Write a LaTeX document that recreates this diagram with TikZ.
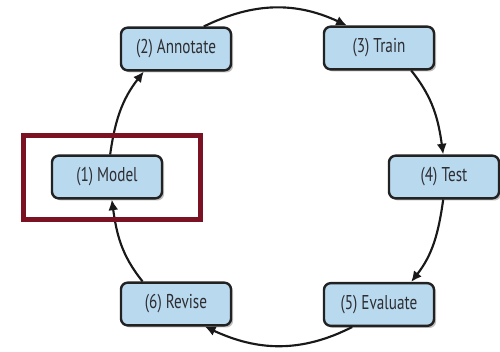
\documentclass[tikz,border=0pt]{standalone}
\usepackage{fontspec}
\setmainfont{PT Sans}[FakeStretch=0.76]
\usetikzlibrary{arrows.meta,shadows}
\definecolor{boxfill}{RGB}{185,217,238}
\definecolor{boxline}{RGB}{34,34,34}
\definecolor{txt}{RGB}{45,45,50}
\definecolor{frame}{RGB}{122,18,36}
\begin{document}
\begin{tikzpicture}[x=0.75pt,y=0.75pt,
  stagebox/.style={draw=boxline,line width=1.8pt,fill=boxfill,rounded corners=5pt,
    minimum width=82.5pt,minimum height=32pt,inner sep=0pt,
    font=\fontsize{15pt}{17pt}\selectfont,text=txt,
    drop shadow={shadow xshift=1.6pt,shadow yshift=-1.6pt,fill=black,opacity=0.25}},
  flow/.style={line width=1.6pt,draw=black!90,-{Latex[length=8pt,width=7.5pt]}}]
\useasboundingbox (0,0) rectangle (500,352);
\node[stagebox] (annot) at (176,303) {(2) Annotate};
\node[stagebox] (train) at (379,304) {(3) Train};
\node[stagebox] (model) at (107,175) {(1) Model};
\node[stagebox] (test) at (444,175) {(4) Test};
\node[stagebox] (revise) at (176,48) {(6) Revise};
\node[stagebox] (eval) at (379,47.5) {(5) Evaluate};
\draw[flow] (annot.39) to[out=26,in=155] (train.145);
\draw[flow] (train.-35) to[out=-51,in=98] (test.92);
\draw[flow] (test.-92) to[out=-98,in=52] (eval.35);
\draw[flow] (eval.-140) to[out=-153,in=-25] (revise.-38);
\draw[flow] (revise.146) to[out=129,in=-82] (model.-78);
\draw[flow] (model.82) to[out=82,in=-128] (annot.-145);
\node[draw=frame,line width=3.4pt,minimum width=132.8pt,minimum height=63pt,inner sep=0pt] (hl) at (112,174.5) {};
\end{tikzpicture}
\end{document}
